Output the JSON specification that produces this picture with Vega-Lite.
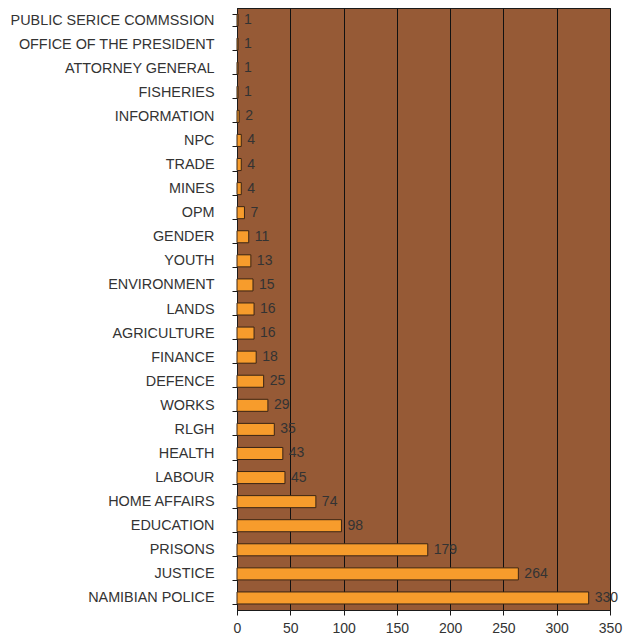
{
  "$schema": "https://vega.github.io/schema/vega-lite/v6.json",
  "width": 373,
  "height": 602,
  "autosize": "none",
  "padding": {"left": 237, "top": 8, "right": 13, "bottom": 24},
  "background": "white",
  "config": {
    "view": {"fill": "#965A36", "stroke": "#1a1a1a", "strokeWidth": 1},
    "font": "Liberation Sans",
    "axis": {"labelFont": "Liberation Sans", "labelFontSize": 14, "labelColor": "#333333", "domainColor": "#1a1a1a", "tickColor": "#1a1a1a", "tickSize": 5, "gridColor": "#111111", "gridOpacity": 1, "gridWidth": 1}
  },
  "data": {
    "values": [
      {"ministry": "PUBLIC SERICE COMMSSION", "value": 1},
      {"ministry": "OFFICE OF THE PRESIDENT", "value": 1},
      {"ministry": "ATTORNEY GENERAL", "value": 1},
      {"ministry": "FISHERIES", "value": 1},
      {"ministry": "INFORMATION", "value": 2},
      {"ministry": "NPC", "value": 4},
      {"ministry": "TRADE", "value": 4},
      {"ministry": "MINES", "value": 4},
      {"ministry": "OPM", "value": 7},
      {"ministry": "GENDER", "value": 11},
      {"ministry": "YOUTH", "value": 13},
      {"ministry": "ENVIRONMENT", "value": 15},
      {"ministry": "LANDS", "value": 16},
      {"ministry": "AGRICULTURE ", "value": 16},
      {"ministry": "FINANCE", "value": 18},
      {"ministry": "DEFENCE", "value": 25},
      {"ministry": "WORKS", "value": 29},
      {"ministry": "RLGH", "value": 35},
      {"ministry": "HEALTH", "value": 43},
      {"ministry": "LABOUR", "value": 45},
      {"ministry": "HOME AFFAIRS", "value": 74},
      {"ministry": "EDUCATION", "value": 98},
      {"ministry": "PRISONS", "value": 179},
      {"ministry": "JUSTICE", "value": 264},
      {"ministry": "NAMIBIAN POLICE", "value": 330}
    ]
  },
  "encoding": {
    "y": {
      "field": "ministry", "type": "nominal", "sort": null, "title": null,
      "scale": {"paddingInner": 0.5, "paddingOuter": 0.25},
      "axis": {"tickBand": "extent", "labelPadding": 18, "labelFontSize": 14.4, "domain": true, "grid": false, "labelLimit": 300}
    },
    "x": {
      "field": "value", "type": "quantitative", "title": null,
      "scale": {"domain": [0, 350], "nice": false},
      "axis": {"values": [0, 50, 100, 150, 200, 250, 300, 350], "grid": true, "labelPadding": 6, "labelFlush": false}
    }
  },
  "layer": [
    {"mark": {"type": "bar", "fill": "#F79C2C", "stroke": "#3a2414", "strokeWidth": 1}},
    {"mark": {"type": "text", "align": "left", "dx": 6, "fontSize": 14, "color": "#333333", "font": "Liberation Sans"},
     "encoding": {"text": {"field": "value", "type": "quantitative"}}}
  ]
}
